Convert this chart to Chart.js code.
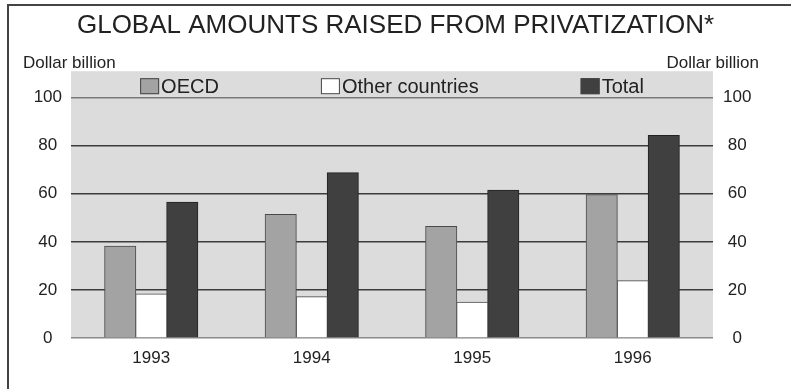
<!DOCTYPE html>
<html>
<head>
<meta charset="utf-8">
<script src="https://cdn.jsdelivr.net/npm/chart.js@4.4.0/dist/chart.umd.min.js"></script>
<style>
  html, body { margin: 0; padding: 0; background: #fff; }
  #wrap { position: relative; width: 791px; height: 389px; overflow: hidden; }
  #frame { position: absolute; left: 7px; top: 4px; width: 900px; height: 500px;
           border-left: 2px solid #444; border-top: 2px solid #444; }
  canvas { position: absolute; left: 0; top: 0; }
</style>
</head>
<body>
<div id="wrap">
  <div id="frame"></div>
  <canvas id="chart" width="791" height="389"></canvas>
</div>
<script>
// Données (milliards de dollars)
const years = ['1993', '1994', '1995', '1996'];
const oecd = [38.2, 51.4, 46.4, 59.6];
const otherCountries = [18.3, 17.2, 14.9, 23.8];
const total = [56.5, 68.7, 61.5, 84.3];
const tickValues = [0, 20, 40, 60, 80, 100];

const FONT = "'Liberation Sans', Arial, sans-serif";
const INK = '#222';

// Fond gris de la zone de tracé
const bgPlugin = {
    id: 'bg',
    beforeDraw(chart) {
        const { ctx, chartArea: a } = chart;
        ctx.save();
        ctx.fillStyle = '#dcdcdc';
        ctx.fillRect(a.left, a.top, a.right - a.left, a.bottom - a.top);
        ctx.restore();
    }
};

// Légende dessinée dans la zone grise + libellés "Dollar billion"
const legendPlugin = {
    id: 'insideLegend',
    afterDatasetsDraw(chart) {
        const { ctx, chartArea: a } = chart;
        ctx.save();
        ctx.font = '20px ' + FONT;
        const boxW = 19, boxH = 16, gapText = 2, gapItem = 102;
        const items = chart.data.datasets.map(ds => ({
            label: ds.label, fill: ds.backgroundColor,
            w: boxW + gapText + ctx.measureText(ds.label).width
        }));
        const totalW = items.reduce((s, it) => s + it.w, 0) + gapItem * (items.length - 1);
        let x = (a.left + a.right) / 2 - totalW / 2;
        const cy = a.top + 15;
        items.forEach(it => {
            ctx.fillStyle = it.fill;
            ctx.fillRect(x, cy - boxH / 2, boxW, boxH);
            ctx.strokeStyle = '#444';
            ctx.lineWidth = 1;
            ctx.strokeRect(x + 0.5, cy - boxH / 2 + 0.5, boxW - 1, boxH - 1);
            ctx.fillStyle = INK;
            ctx.textBaseline = 'middle';
            ctx.textAlign = 'left';
            ctx.fillText(it.label, x + boxW + gapText, cy + 1);
            x += it.w + gapItem;
        });

        ctx.font = '17px ' + FONT;
        ctx.fillStyle = INK;
        ctx.textBaseline = 'alphabetic';
        ctx.textAlign = 'left';
        ctx.fillText('Dollar billion', 23, a.top - 3);
        ctx.textAlign = 'right';
        ctx.fillText('Dollar billion', 759, a.top - 3);
        ctx.restore();
    }
};

function gridColor(c) {
    const v = c.tick ? c.tick.value : null;
    if (v === 0) return '#8a8a8a';
    if (v === 100) return '#7a7a7a';
    return '#3c3c3c';
}

function yAxis(position, width, pad, grid) {
    return {
        position: position,
        min: 0,
        max: 111,
        afterBuildTicks(scale) {
            scale.ticks = tickValues.map(v => ({ value: v }));
        },
        afterFit(scale) { scale.width = width; },
        border: { display: false },
        grid: {
            display: grid,
            drawTicks: false,
            color: gridColor,
            lineWidth: 1.6
        },
        ticks: {
            crossAlign: 'center',
            padding: pad,
            color: INK,
            font: { family: FONT, size: 17 }
        }
    };
}

const data = {
    labels: years,
    datasets: [
        { label: 'OECD', data: oecd, backgroundColor: '#a3a3a3', borderColor: '#4a4a4a', borderWidth: 1, yAxisID: 'y' },
        { label: 'Other countries', data: otherCountries, backgroundColor: '#ffffff', borderColor: '#4a4a4a', borderWidth: 1, yAxisID: 'y' },
        { label: 'Total', data: total, backgroundColor: '#404040', borderColor: '#222', borderWidth: 1, yAxisID: 'y' }
    ]
};

new Chart(document.getElementById('chart'), {
    type: 'bar',
    data: data,
    options: {
        responsive: false,
        animation: false,
        layout: { padding: { left: 0, right: 0, top: 0, bottom: 0 } },
        datasets: { bar: { categoryPercentage: 0.58, barPercentage: 1, inflateAmount: 0.5 } },
        plugins: {
            legend: { display: false },
            tooltip: { enabled: false },
            title: {
                display: true,
                text: 'GLOBAL AMOUNTS RAISED FROM PRIVATIZATION*',
                color: INK,
                font: { family: FONT, size: 26, weight: 'normal' },
                padding: { top: 10, bottom: 30 }
            }
        },
        scales: {
            x: {
                grid: { display: false },
                border: { display: false },
                afterFit(scale) { scale.height = 51; },
                ticks: { color: INK, padding: 2, font: { family: FONT, size: 17 } }
            },
            y: yAxis('left', 71, 9, true),
            y2: yAxis('right', 78, 10, false)
        }
    },
    plugins: [bgPlugin, legendPlugin]
});
</script>
</body>
</html>
